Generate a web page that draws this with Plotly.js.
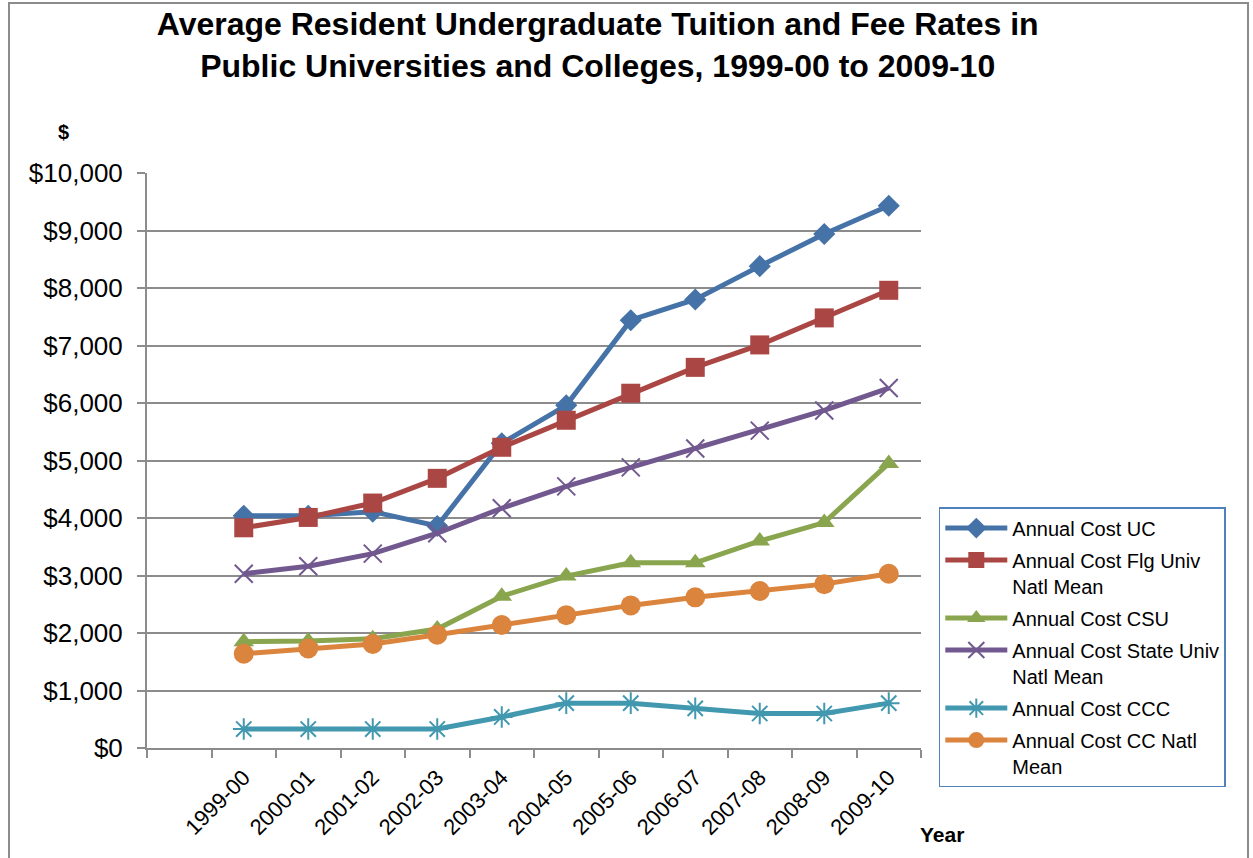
<!DOCTYPE html>
<html>
<head>
<meta charset="utf-8">
<script src="https://cdn.plot.ly/plotly-3.0.1.min.js"></script>
<style>
  html, body { margin: 0; padding: 0; background: #fff; }
  #wrap { position: relative; width: 1253px; height: 858px; overflow: hidden; }
  #chart { width: 1253px; height: 858px; }
  #frame { position: absolute; left: 8px; top: 2px; width: 1241px; height: 880px;
           border: 2px solid #8c8c8c; box-sizing: border-box; pointer-events: none; }
</style>
</head>
<body>
<div id="wrap">
  <div id="chart"></div>
  <div id="frame"></div>
</div>
<script>
// ---- data ----
const years = ["1999-00","2000-01","2001-02","2002-03","2003-04","2004-05","2005-06","2006-07","2007-08","2008-09","2009-10"];
const axisCategories = [" "].concat(years); // leading empty slot as in the original axis

const seriesNames = [
  "Annual Cost UC",
  "Annual Cost Flg Univ<br>Natl Mean",
  "Annual Cost CSU",
  "Annual Cost State Univ<br>Natl Mean",
  "Annual Cost CCC",
  "Annual Cost CC Natl<br>Mean"
];

const costUC       = [4040, 4040, 4110, 3860, 5300, 5960, 7440, 7800, 8380, 8940, 9430];
const costFlgUniv  = [3830, 4010, 4260, 4690, 5230, 5700, 6170, 6620, 7010, 7480, 7960];
const costCSU      = [1850, 1860, 1900, 2070, 2640, 2990, 3220, 3220, 3600, 3920, 4950];
const costStateUniv= [3030, 3160, 3380, 3735, 4170, 4550, 4880, 5210, 5520, 5870, 6260];
const costCCC      = [330, 330, 330, 330, 540, 780, 780, 690, 600, 600, 780];
const costCCNatl   = [1640, 1730, 1810, 1970, 2140, 2310, 2480, 2620, 2730, 2850, 3030];

const seriesValues = [costUC, costFlgUniv, costCSU, costStateUniv, costCCC, costCCNatl];

// ---- styles ----
const colors  = ["#4572A7", "#AA4643", "#89A54E", "#71588F", "#4198AF", "#DB843D"];
const symbols = ["diamond", "square", "triangle-up", "x-thin-open", "asterisk-open", "circle"];
const sizes   = [17, 19, 18, 18, 18, 20];

const FONT = "Liberation Sans, Arial, sans-serif";

const traces = seriesValues.map((vals, i) => ({
  type: "scatter",
  mode: "lines+markers",
  name: seriesNames[i],
  legendgroup: "g" + i,
  x: years,
  y: vals,
  line: { color: colors[i], width: 5 },
  marker: {
    symbol: symbols[i],
    size: sizes[i],
    color: colors[i],
    line: { color: colors[i], width: (i === 3 || i === 4) ? 2 : 0 }
  },
  cliponaxis: false
}));

const layout = {
  width: 1253,
  height: 858,
  margin: { l: 147, r: 332, t: 173, b: 110, pad: 0 },
  paper_bgcolor: "#ffffff",
  plot_bgcolor: "#ffffff",
  font: { family: FONT, color: "#000000" },
  title: {
    text: "<b>Average Resident Undergraduate Tuition and Fee Rates in<br>Public Universities and Colleges, 1999-00 to 2009-10</b>",
    font: { family: FONT, size: 32, color: "#000000" },
    x: 0.477, xref: "container", xanchor: "center",
    y: 0.959, yref: "container", yanchor: "top"
  },
  xaxis: {
    type: "category",
    categoryorder: "array",
    categoryarray: axisCategories,
    range: [-0.5, 11.5],
    tickson: "boundaries",
    ticks: "outside",
    ticklen: 8,
    tickwidth: 2,
    tickcolor: "#8c8c8c",
    showgrid: false,
    showline: true,
    linecolor: "#8c8c8c",
    linewidth: 2,
    tickangle: -45,
    tickfont: { family: FONT, size: 22, color: "#000000" },
    ticklabelstandoff: 6,
    zeroline: false,
    fixedrange: true
  },
  yaxis: {
    range: [0, 10000],
    dtick: 1000,
    tick0: 0,
    tickformat: "$,.0f",
    ticks: "outside",
    ticklen: 8,
    tickwidth: 2,
    tickcolor: "#8c8c8c",
    showgrid: true,
    gridcolor: "#8c8c8c",
    gridwidth: 2,
    showline: true,
    linecolor: "#8c8c8c",
    linewidth: 2,
    zeroline: false,
    tickfont: { family: FONT, size: 26, color: "#000000" },
    ticklabelstandoff: 9,
    fixedrange: true
  },
  legend: {
    x: 1.023, xanchor: "left",
    y: 0.419, yanchor: "top",
    bordercolor: "#4F81BD",
    borderwidth: 1.5,
    bgcolor: "#ffffff",
    font: { family: FONT, size: 20, color: "#000000" },
    valign: "top",
    tracegroupgap: 3,
    itemwidth: 62,
    itemsizing: "trace"
  },
  annotations: [
    { text: "<b>$</b>", xref: "paper", yref: "paper", x: -0.117, y: 1.094,
      showarrow: false, font: { family: FONT, size: 20, color: "#000000" } },
    { text: "<b>Year</b>", xref: "paper", yref: "paper", x: 1.058, y: -0.174,
      showarrow: false, font: { family: FONT, size: 21, color: "#000000" } }
  ],
  showlegend: true
};

Plotly.newPlot("chart", traces, layout, { displayModeBar: false, staticPlot: true });
</script>
</body>
</html>
